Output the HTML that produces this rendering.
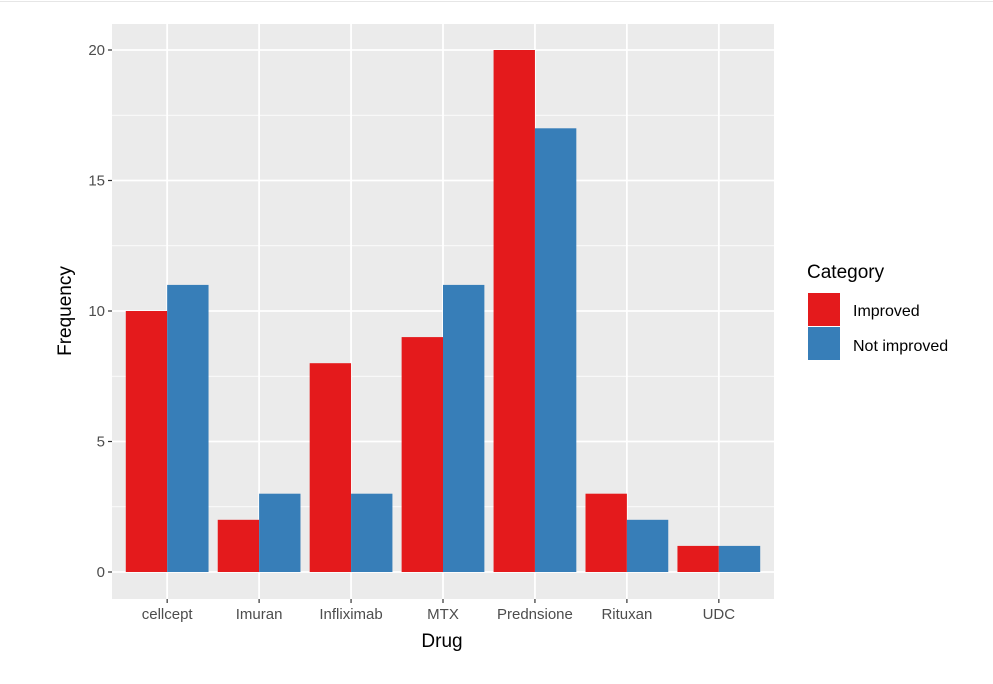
<!DOCTYPE html>
<html><head><meta charset="utf-8"><style>
body{margin:0;background:#fff;font-family:"Liberation Sans",Arial,sans-serif}
svg text{font-family:"Liberation Sans",Arial,sans-serif}
</style></head><body>
<svg id="chart" width="993" height="679">
<rect x="0" y="0" width="993" height="679" fill="#fff"/>
<line x1="0" y1="1.5" x2="993" y2="1.5" stroke="#e6e6e6" stroke-width="1"/>
<g id="panel"></g>
<g id="bars"></g>
<g id="axes"></g>
<text x="442" y="647" text-anchor="middle" font-size="19" fill="#000">Drug</text>
<text transform="translate(71,311) rotate(-90)" text-anchor="middle" font-size="19" fill="#000">Frequency</text>
<g>
<text x="807" y="278" font-size="19" fill="#000">Category</text>
<rect x="808" y="293" width="32" height="33" fill="#E41A1C"/>
<text x="853" y="316" font-size="16" fill="#000">Improved</text>
<rect x="808" y="327" width="32" height="33" fill="#377EB8"/>
<text x="853" y="351" font-size="16" fill="#000">Not improved</text>
</g>
</svg>
<script>
const categories=["cellcept","Imuran","Infliximab","MTX","Prednsione","Rituxan","UDC"];
const improved=[10,2,8,9,20,3,1];
const notImproved=[11,3,3,11,17,2,1];
const yTicks=[0,5,10,15,20];
const NS="http://www.w3.org/2000/svg";
const L=112,R=774,T=24,B=599;
const y0=572,pxPer=26.1;
const ymax=Math.max(...improved,...notImproved);
const y=v=>y0-v*pxPer*(20/Math.max(20,ymax))*(ymax>20?1:1);
const step=(R-L)/(categories.length-1+1.2);
const xc=i=>L+0.6*step+i*step;
function mk(tag,attrs,parent){const e=document.createElementNS(NS,tag);for(const k in attrs)e.setAttribute(k,attrs[k]);parent.appendChild(e);return e;}
const panel=document.getElementById('panel'),bars=document.getElementById('bars'),axes=document.getElementById('axes');
const bg=mk('rect',{x:L,y:T,width:R-L,height:B-T,fill:'#EBEBEB'},panel);


for(let i=0;i<yTicks.length-1;i++){const v=(yTicks[i]+yTicks[i+1])/2;
const g=mk('line',{x1:L,x2:R,y1:y(v),y2:y(v),stroke:'#fff','stroke-width':0.8},panel);

}
yTicks.forEach(v=>{const g=mk('line',{x1:L,x2:R,y1:y(v),y2:y(v),stroke:'#fff','stroke-width':1.8},panel);


const t=mk('line',{x1:L-4,x2:L,y1:y(v),y2:y(v),stroke:'#333','stroke-width':1.2},axes);


const tx=mk('text',{x:L-7,y:y(v)+5,'text-anchor':'end','font-size':15,fill:'#4D4D4D'},axes);tx.textContent=v;

});
const bw=step*0.45;
categories.forEach((c,i)=>{const x=xc(i);
const g=mk('line',{x1:x,x2:x,y1:T,y2:B,stroke:'#fff','stroke-width':1.8},panel);


const a=mk('rect',{x:x-bw,y:y(improved[i]),width:bw,height:y0-y(improved[i]),fill:'#E41A1C'},bars);


const b=mk('rect',{x:x,y:y(notImproved[i]),width:bw,height:y0-y(notImproved[i]),fill:'#377EB8'},bars);


const t=mk('line',{x1:x,x2:x,y1:B,y2:B+4,stroke:'#333','stroke-width':1.2},axes);


const tx=mk('text',{x:x,y:B+20,'text-anchor':'middle','font-size':15,fill:'#4D4D4D'},axes);tx.textContent=c;

});
</script>
</body></html>
